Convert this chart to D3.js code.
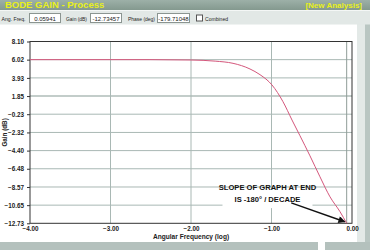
<!DOCTYPE html>
<html>
<head>
<meta charset="utf-8">
<script src="https://cdn.jsdelivr.net/npm/d3@7"></script>
<style>
  body { margin: 0; background: #ffffff; }
  svg { display: block; font-family: "Liberation Sans", Arial, sans-serif; }
</style>
</head>
<body>
<div class="container"></div>
<script>
// chart values
var xTicks = [-4, -3, -2, -1, 0];
var yTicks = [8.10, 6.02, 3.93, 1.85, -0.23, -2.32, -4.40, -6.48, -8.57, -10.65, -12.73];
var logFreq = [-4, -2.51, -2.0, -1.70, -1.478, -1.267, -1.143, -0.994, -0.857, -0.745, -0.646, -0.522, -0.398, -0.273, -0.149, -0.066];
var gainDb = [6.02, 6.02, 5.98, 5.85, 5.60, 4.95, 4.30, 3.12, 1.20, -0.90, -2.70, -5.00, -7.40, -9.70, -11.40, -12.73];
var cursorFreq = -0.066;
var readouts = [
    { label: "Ang. Freq.", value: "0.05941" },
    { label: "Gain (dB)", value: "-12.73457" },
    { label: "Phase (deg)", value: "-179.71048" }
];

var svgWidth = 370;
var svgHeight = 250;
var chartMargin = { top: 41.5, bottom: 26.7, left: 30, right: 18 };
var chartWidth = svgWidth - (chartMargin.left + chartMargin.right);
var chartHeight = svgHeight - (chartMargin.top + chartMargin.bottom);

var svg = d3.select(".container")
    .append("svg")
    .attr("width", svgWidth)
    .attr("height", svgHeight);

// window frame
svg.append("rect").attr("width", svgWidth).attr("height", svgHeight).attr("fill", "#ffffff");
svg.append("rect").attr("x", 357).attr("y", 24).attr("width", 13).attr("height", 226).attr("fill", "#e3e9e7");
svg.append("rect").attr("x", 365).attr("y", 24).attr("width", 5).attr("height", 226).attr("fill", "#b9c6c2");
svg.append("rect").attr("x", 0).attr("y", 242).attr("width", 318).attr("height", 8).attr("fill", "#b4c1bd");
svg.append("rect").attr("x", 325).attr("y", 242).attr("width", 45).attr("height", 8).attr("fill", "#b4c1bd");

// title bar
var grad = svg.append("defs").append("linearGradient")
    .attr("id", "titleGrad").attr("x1", 0).attr("y1", 0).attr("x2", 0).attr("y2", 1);
grad.append("stop").attr("offset", "0%").attr("stop-color", "#9db0a8");
grad.append("stop").attr("offset", "100%").attr("stop-color", "#84998f");
svg.append("rect").attr("width", svgWidth).attr("height", 10).attr("fill", "url(#titleGrad)");
svg.append("text").attr("x", 5).attr("y", 8.3)
    .attr("font-size", "9.5px").attr("font-weight", "bold").attr("fill", "#e8f01a")
    .text("BODE GAIN - Process");
svg.append("text").attr("x", 362).attr("y", 8.3).attr("text-anchor", "end")
    .attr("font-size", "8px").attr("font-weight", "bold").attr("fill", "#e8f01a")
    .text("[New Analysis]");

// toolbar
svg.append("rect").attr("y", 10).attr("width", svgWidth).attr("height", 14.5).attr("fill", "#e2e8e6");
svg.append("line").attr("x1", 0).attr("x2", svgWidth).attr("y1", 10.5).attr("y2", 10.5).attr("stroke", "#f4f7f6");
var labelX = [1.5, 66, 128];
var labelW = [24, 21, 27];
var boxX = [29, 90, 157];
var boxW = [31, 31, 32];
readouts.forEach(function (r, i) {
    svg.append("text").attr("x", labelX[i]).attr("y", 20.5)
        .attr("font-size", "6px").attr("fill", "#222")
        .attr("textLength", labelW[i]).attr("lengthAdjust", "spacingAndGlyphs")
        .text(r.label);
    svg.append("rect").attr("x", boxX[i] + 0.5).attr("y", 13.5).attr("width", boxW[i]).attr("height", 9)
        .attr("fill", "#ffffff").attr("stroke", "#8b9591").attr("stroke-width", 1);
    svg.append("text").attr("x", boxX[i] + boxW[i] / 2 + 0.5).attr("y", 20.5).attr("text-anchor", "middle")
        .attr("font-size", "6px").attr("fill", "#222").text(r.value);
});
svg.append("rect").attr("x", 196.5).attr("y", 15).attr("width", 6).attr("height", 6)
    .attr("fill", "#ffffff").attr("stroke", "#555");
svg.append("text").attr("x", 205).attr("y", 20.5)
    .attr("font-size", "6px").attr("fill", "#222")
    .attr("textLength", 23).attr("lengthAdjust", "spacingAndGlyphs")
    .text("Combined");

var chartGroup = svg.append("g")
    .attr("transform", `translate(${chartMargin.left}, ${chartMargin.top})`);

var xLinearScale = d3.scaleLinear()
    .domain([-4, 0])
    .range([0, chartWidth]);

var yLinearScale = d3.scaleLinear()
    .domain([d3.min(yTicks), d3.max(yTicks)])
    .range([chartHeight, 0]);

// gridlines
chartGroup.selectAll(".hgrid")
    .data(yTicks.slice(1, -1))
    .enter()
    .append("line")
    .attr("x1", 0).attr("x2", chartWidth)
    .attr("y1", d => yLinearScale(d)).attr("y2", d => yLinearScale(d))
    .attr("stroke", d => d === 1.85 ? "#c3cdca" : "#a9b8b4")
    .attr("stroke-width", d => d === 1.85 ? 2 : 1);

chartGroup.selectAll(".vgrid")
    .data(xTicks.slice(1, -1))
    .enter()
    .append("line")
    .attr("x1", d => xLinearScale(d)).attr("x2", d => xLinearScale(d))
    .attr("y1", 0).attr("y2", chartHeight)
    .attr("stroke", "#a9b8b4");

chartGroup.append("line")
    .attr("x1", xLinearScale(cursorFreq)).attr("x2", xLinearScale(cursorFreq))
    .attr("y1", 0).attr("y2", chartHeight)
    .attr("stroke", "#8f9c98");

chartGroup.append("rect")
    .attr("width", chartWidth).attr("height", chartHeight)
    .attr("fill", "none").attr("stroke", "#333").attr("stroke-width", 1);

// axes
var leftAxis = d3.axisLeft(yLinearScale).tickValues(yTicks).tickSize(3).tickFormat(d3.format(".2f"));
var bottomAxis = d3.axisBottom(xLinearScale).tickValues(xTicks).tickSize(0).tickPadding(3).tickFormat(d3.format(".2f"));

var yAxisG = chartGroup.append("g").call(leftAxis);
var xAxisG = chartGroup.append("g").attr("transform", `translate(0, ${chartHeight})`).call(bottomAxis);
[yAxisG, xAxisG].forEach(function (g) {
    g.select(".domain").remove();
    g.selectAll("line").attr("stroke", "#333");
    g.selectAll("text")
        .attr("font-family", "Liberation Sans, Arial, sans-serif")
        .attr("font-size", "6.3px").attr("font-weight", "bold").attr("fill", "#222");
});
yAxisG.selectAll("text").attr("dy", "0.35em");

// gain curve
var points = logFreq.map((f, i) => [f, gainDb[i]]);
var line = d3.line()
    .x(d => xLinearScale(d[0]))
    .y(d => yLinearScale(d[1]))
    .curve(d3.curveMonotoneX);
chartGroup.append("path")
    .datum(points)
    .attr("d", line)
    .attr("fill", "none")
    .attr("stroke", "#d4577c")
    .attr("stroke-width", 1);

// axis titles
chartGroup.append("text")
    .attr("transform", `translate(${chartWidth / 2}, ${chartHeight + 15.5})`)
    .attr("text-anchor", "middle")
    .attr("font-size", "6.6px").attr("font-weight", "bold").attr("fill", "#222")
    .text("Angular Frequency (log)");

chartGroup.append("text")
    .attr("transform", `translate(${-23}, ${chartHeight / 2}) rotate(-90)`)
    .attr("text-anchor", "middle")
    .attr("font-size", "6.3px").attr("font-weight", "bold").attr("fill", "#222")
    .text("Gain (dB)");

// annotation
var note = chartGroup.append("g").attr("transform", `translate(${xLinearScale(-1.05)}, 0)`);
note.append("rect").attr("x", -45).attr("y", yLinearScale(-9.5) - 6).attr("width", 90).attr("height", 19).attr("fill", "#ffffff");
note.append("text").attr("y", yLinearScale(-8.9)).attr("text-anchor", "middle")
    .attr("font-size", "7.6px").attr("font-weight", "bold").attr("fill", "#111")
    .text("SLOPE OF GRAPH AT END");
note.append("text").attr("y", yLinearScale(-10.25)).attr("text-anchor", "middle")
    .attr("font-size", "7.6px").attr("font-weight", "bold").attr("fill", "#111")
    .text("IS  -180\u00b0 / DECADE");

svg.append("defs").append("marker")
    .attr("id", "arrow").attr("viewBox", "0 0 10 10").attr("refX", 9).attr("refY", 5)
    .attr("markerWidth", 6).attr("markerHeight", 5).attr("orient", "auto")
    .append("path").attr("d", "M0,0 L10,5 L0,10 z").attr("fill", "#111");

chartGroup.append("line")
    .attr("x1", xLinearScale(-0.755)).attr("y1", yLinearScale(-10.4))
    .attr("x2", xLinearScale(-0.09)).attr("y2", yLinearScale(-12.55))
    .attr("stroke", "#111").attr("stroke-width", 1.4)
    .attr("marker-end", "url(#arrow)");
</script>
</body>
</html>
